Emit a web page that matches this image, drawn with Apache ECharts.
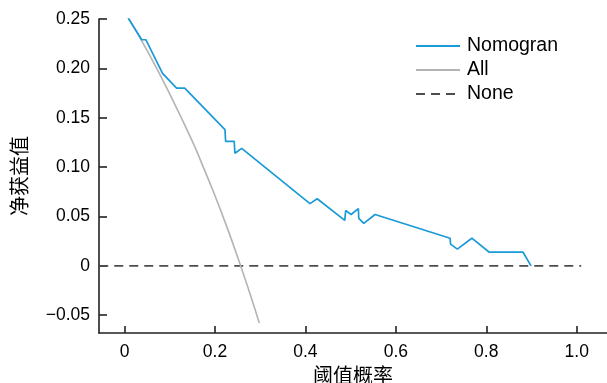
<!DOCTYPE html>
<html>
<head>
<meta charset="utf-8">
<script src="https://cdn.jsdelivr.net/npm/echarts@6/dist/echarts.min.js"></script>
<style>html,body{margin:0;padding:0;background:#fff;}#c{width:607px;height:383px;}</style>
</head>
<body>
<div id="c"></div>
<script>
var nomoX = [0.008,0.038,0.047,0.084,0.115,0.133,0.222,0.2235,0.2425,0.244,0.259,0.410,0.426,0.487,0.489,0.501,0.517,0.518,0.529,0.554,0.720,0.721,0.736,0.768,0.806,0.881,0.899];
var nomoY = [0.251,0.229,0.229,0.195,0.180,0.180,0.138,0.126,0.126,0.114,0.119,0.063,0.068,0.046,0.056,0.052,0.058,0.048,0.043,0.052,0.028,0.022,0.017,0.028,0.014,0.014,0.000];
var allX = [0.008,0.05,0.1,0.15,0.175,0.2,0.225,0.25,0.275,0.298];
var allY = [0.251,0.218,0.174,0.126,0.099,0.071,0.041,0.009,-0.025,-0.058];
var noneX = [-0.056,1.01];
var noneY = [0,0];
var xTicks = [0,0.2,0.4,0.6,0.8,1.0];
var xTickLabels = ['0','0.2','0.4','0.6','0.8','1.0'];
var yTicks = [0.25,0.20,0.15,0.10,0.05,0,-0.05];
var yTickLabels = ['0.25','0.20','0.15','0.10','0.05','0','\u22120.05'];

function zip(a,b){return a.map(function(v,i){return [v,b[i]];});}
function lookup(ticks, labels){
  return function(v){
    for (var i=0;i<ticks.length;i++){ if (Math.abs(ticks[i]-v)<1e-6) return labels[i]; }
    return '';
  };
}
var font = '"Liberation Sans", Arial, Helvetica, sans-serif';
var cjk = '"Noto Sans CJK SC", sans-serif';
var chart = echarts.init(document.getElementById('c'), null, {renderer:'canvas'});
chart.setOption({
  animation:false,
  backgroundColor:'#fff',
  grid:{left:99, right:0, top:19, bottom:50, containLabel:false, outerBoundsMode:'none'},
  legend:{
    orient:'vertical', left:410, top:31, itemWidth:44, itemHeight:14, itemGap:4,
    itemStyle:{opacity:0},
    textStyle:{fontFamily:font, fontSize:19.5, color:'#000', lineHeight:20, padding:[0,0,0,2]},
    data:['Nomogran','All','None']
  },
  xAxis:{
    type:'value', min:-0.0566, max:1.067,
    name:'阈值概率', nameLocation:'middle', nameGap:28,
    nameTextStyle:{fontFamily:cjk, fontSize:20, color:'#000'},
    axisLine:{show:true, onZero:false, lineStyle:{color:'#222', width:1.6}},
    axisTick:{show:true, inside:true, length:7, customValues:xTicks, lineStyle:{color:'#222', width:1.6}},
    axisLabel:{customValues:xTicks, formatter:lookup(xTicks,xTickLabels), fontFamily:font, fontSize:17.5, color:'#000', margin:10},
    splitLine:{show:false}
  },
  yAxis:{
    type:'value', min:-0.068, max:0.25,
    name:'净获益值', nameLocation:'middle', nameGap:70, nameRotate:90,
    nameTextStyle:{fontFamily:cjk, fontSize:20, color:'#000'},
    axisLine:{show:true, onZero:false, lineStyle:{color:'#222', width:1.6}},
    axisTick:{show:true, inside:true, length:8, customValues:yTicks, lineStyle:{color:'#222', width:1.6}},
    axisLabel:{customValues:yTicks, formatter:lookup(yTicks,yTickLabels), fontFamily:font, fontSize:17.5, color:'#000', margin:9},
    splitLine:{show:false}
  },
  series:[
    {name:'Nomogran', type:'line', data:zip(nomoX,nomoY), symbol:'none', smooth:false,
     lineStyle:{color:'#1a9ad6', width:1.7}, itemStyle:{color:'#1a9ad6'}, z:4},
    {name:'All', type:'line', data:zip(allX,allY), symbol:'none', smooth:true,
     lineStyle:{color:'#b3b3b3', width:1.6}, itemStyle:{color:'#b3b3b3'}, z:3},
    {name:'None', type:'line', data:zip(noneX,noneY), symbol:'none',
     lineStyle:{color:'#4d4d4d', width:1.8, type:[9,6]}, itemStyle:{color:'#4d4d4d'}, z:2}
  ]
});
</script>
</body>
</html>
